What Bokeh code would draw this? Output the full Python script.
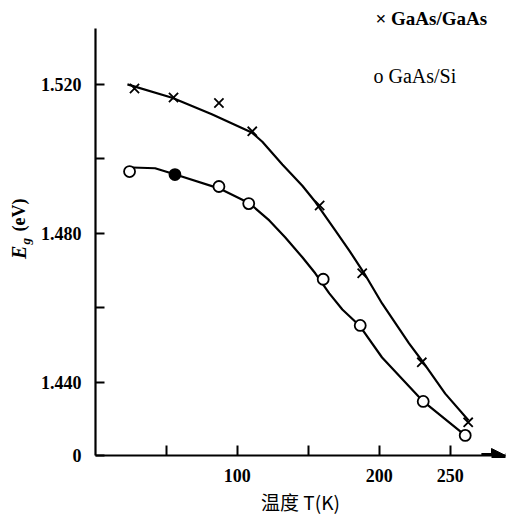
import math
from bokeh.plotting import figure
from bokeh.layouts import row
from bokeh.models import FixedTicker, Label, Arrow, NormalHead, Range1d, Title
from bokeh.core.properties import value
from bokeh.embed import file_html
from bokeh.resources import INLINE

# ---- data ----
# GaAs/GaAs (crosses)
t_gaas = [27.5, 55, 87, 110.5, 158, 188, 230, 262.7]
e_gaas = [1.5189, 1.5165, 1.5150, 1.5074, 1.4875, 1.4693, 1.4454, 1.4293]
# GaAs/Si (circles)
t_si = [24, 56, 87, 108, 160.5, 186.6, 231, 260.6]
e_si = [1.4966, 1.4958, 1.4926, 1.4880, 1.4677, 1.4553, 1.4349, 1.4258]

# hand-drawn fit curves
curve_gaas_t = [22.5, 54, 82, 110.5, 117.6, 131.7, 145.8, 154.9, 169, 178.9,
                189.4, 202, 221, 230, 246.5, 263]
curve_gaas_e = [1.5200, 1.5164, 1.5120, 1.5070, 1.5046, 1.4985, 1.4928, 1.4885,
                1.4808, 1.4754, 1.4693, 1.4612, 1.4505, 1.4459, 1.4370, 1.4298]
curve_si_t = [26, 42, 58, 87, 108.5, 122.5, 133.8, 145.8, 154.9, 164.8, 174,
              186, 202, 231, 260.6]
curve_si_e = [1.4977, 1.4975, 1.4956, 1.4921, 1.4881, 1.4835, 1.4789, 1.4736,
              1.4693, 1.4639, 1.4596, 1.4553, 1.4467, 1.4349, 1.4258]

x_ticks = [50, 100, 150, 200, 250]
x_tick_labels = {50: "", 100: "100", 150: "", 200: "200", 250: "250"}
y_axis_bottom = 1.4204          # broken axis origin, labelled "0"
y_ticks = [y_axis_bottom, 1.44, 1.46, 1.48, 1.50, 1.52]
y_tick_labels = {y_axis_bottom: "0", 1.44: "1.440", 1.46: "", 1.48: "1.480",
                 1.50: "", 1.52: "1.520"}

legend_labels = ["GaAs/GaAs", "GaAs/Si"]
x_title = "温度 T(K)"
y_title = ["E", "g", "(eV)"]

serif = "Liberation Serif"
H = 526
LEFT_W = 36

# ---- main figure ----
p = figure(width=528 - LEFT_W, height=H, output_backend="svg", toolbar_location=None,
           x_range=Range1d(0, 289), y_range=Range1d(y_axis_bottom, 1.535),
           min_border_left=95 - LEFT_W, min_border_right=23, min_border_top=28,
           min_border_bottom=71)
p.outline_line_color = None
p.xgrid.visible = False
p.ygrid.visible = False
p.background_fill_color = "white"
p.border_fill_color = "white"

for ax in (p.xaxis[0], p.yaxis[0]):
    ax.axis_line_width = 2.2
    ax.axis_line_color = "black"
    ax.major_tick_line_width = 2
    ax.major_tick_line_color = "black"
    ax.major_tick_out = 0
    ax.minor_tick_line_color = None
    ax.major_label_text_font = serif
    ax.major_label_text_font_style = "bold"
    ax.major_label_text_font_size = "18px"
    ax.major_label_text_color = "black"

p.xaxis.ticker = FixedTicker(ticks=x_ticks)
p.xaxis.major_label_overrides = x_tick_labels
p.xaxis.major_tick_in = 10
p.xaxis.major_label_standoff = 13
p.xaxis.axis_label = x_title
p.xaxis.axis_label_text_font = "Noto Sans CJK SC"
p.xaxis.axis_label_text_font_style = "normal"
p.xaxis.axis_label_text_font_size = "19px"
p.xaxis.axis_label_text_color = "black"
p.xaxis.axis_label_standoff = 3

p.yaxis.ticker = FixedTicker(ticks=y_ticks)
p.yaxis.major_label_overrides = y_tick_labels
p.yaxis.major_tick_in = 9
p.yaxis.major_label_standoff = 14

# fit curves
p.line(curve_gaas_t, curve_gaas_e, line_color="black", line_width=2.2)
p.line(curve_si_t, curve_si_e, line_color="black", line_width=2.2)

# markers
p.scatter(t_gaas, e_gaas, marker="x", size=13, line_color="black", line_width=1.8)
si_fill = ["white", "black", "white", "white", "white", "white", "white", "white"]
p.scatter(t_si, e_si, marker="circle", size=11, fill_color=si_fill,
          line_color="black", line_width=1.8)

# axis arrow head
p.add_layout(Arrow(end=NormalHead(size=14, fill_color="black", line_color="black"),
                   x_start=272, x_end=289, y_start=y_axis_bottom, y_end=y_axis_bottom,
                   line_width=5, line_color="black"))

# legend: first entry as a title above the frame, second as a label inside
p.title = Title(text="×  " + legend_labels[0], align="left", offset=280,
                text_font=serif, text_font_style="bold", text_font_size="19px",
                text_color="black", standoff=0)
p.add_layout(Label(x=278, y=380, x_units="screen", y_units="screen",
                   text="o  " + legend_labels[1], text_font=serif,
                   text_font_style="normal", text_font_size="20px",
                   text_color="black",
                   text_baseline="middle", text_align="left"))

# ---- narrow left strip holding the y-axis title E_g (eV) ----
lf = figure(width=LEFT_W, height=H, output_backend="svg", toolbar_location=None,
            x_range=Range1d(0, LEFT_W), y_range=Range1d(0, H),
            min_border=0, min_border_left=0, min_border_right=0,
            min_border_top=0, min_border_bottom=0)
lf.axis.visible = False
lf.grid.visible = False
lf.outline_line_color = None
lf.background_fill_color = "white"
lf.border_fill_color = "white"
rot = math.pi / 2
lf.text(x=[18], y=[H - 284], text=[y_title[0]], angle=rot,
        text_font=value(serif), text_font_style="bold italic",
        text_font_size="20px", text_align="left", text_baseline="middle")
lf.text(x=[25], y=[H - 266], text=[y_title[1]], angle=rot,
        text_font=value(serif), text_font_style="bold italic",
        text_font_size="13px", text_align="left", text_baseline="middle")
lf.text(x=[18], y=[H - 250], text=[y_title[2]], angle=rot,
        text_font=value(serif), text_font_style="bold",
        text_font_size="18px", text_align="left", text_baseline="middle")

layout = row(lf, p, spacing=0)
open("out.html", "w").write(file_html(layout, INLINE))
